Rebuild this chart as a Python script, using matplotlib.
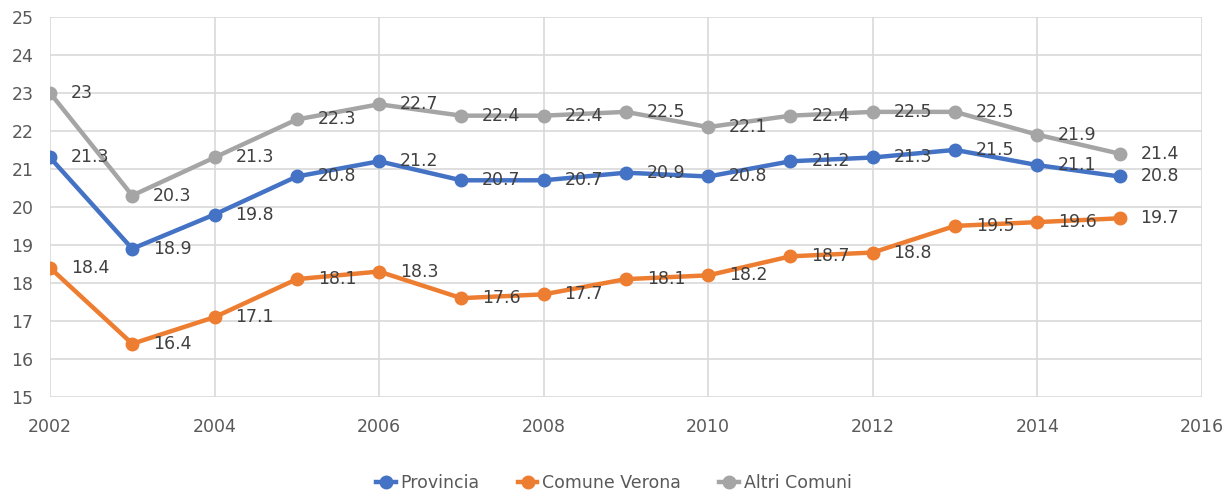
import matplotlib.pyplot as plt

years = list(range(2002, 2016))
provincia = [21.3, 18.9, 19.8, 20.8, 21.2, 20.7, 20.7, 20.9, 20.8, 21.2, 21.3, 21.5, 21.1, 20.8]
comune_verona = [18.4, 16.4, 17.1, 18.1, 18.3, 17.6, 17.7, 18.1, 18.2, 18.7, 18.8, 19.5, 19.6, 19.7]
altri_comuni = [23, 20.3, 21.3, 22.3, 22.7, 22.4, 22.4, 22.5, 22.1, 22.4, 22.5, 22.5, 21.9, 21.4]

SERIES = [
    ('Provincia', provincia, '#4472C4'),
    ('Comune Verona', comune_verona, '#ED7D31'),
    ('Altri Comuni', altri_comuni, '#A5A5A5'),
]

fig = plt.figure(figsize=(12.28, 4.95), dpi=100)
ax = fig.add_axes([0.0407, 0.198, 0.938, 0.768])

for label, vals, color in SERIES:
    ax.plot(years, vals, '-o', color=color, lw=3.2, ms=9, label=label, zorder=3)
    for x, y in zip(years, vals):
        ax.annotate(f'{y:g}', (x, y), xytext=(15, 0), textcoords='offset points',
                    va='center', ha='left', fontsize=12.5, color='#404040', zorder=4)

ax.set_xlim(2002, 2016)
ax.set_ylim(15, 25)
ax.set_xticks(range(2002, 2017, 2))
ax.set_yticks(range(15, 26))
ax.grid(True, color='#D9D9D9', lw=1.2, zorder=0)
ax.set_axisbelow(True)
for s in ax.spines.values():
    s.set_visible(False)
ax.tick_params(length=0, labelsize=12.5, labelcolor='#595959')
ax.tick_params(axis='x', pad=15)
ax.tick_params(axis='y', pad=12)

fig.legend(loc='center', bbox_to_anchor=(0.5, 0.024), ncol=3, frameon=False,
           fontsize=12.5, labelcolor='#595959', handlelength=1.1, columnspacing=2.2,
           handletextpad=0.3)

fig.savefig('out.png', dpi=100)
